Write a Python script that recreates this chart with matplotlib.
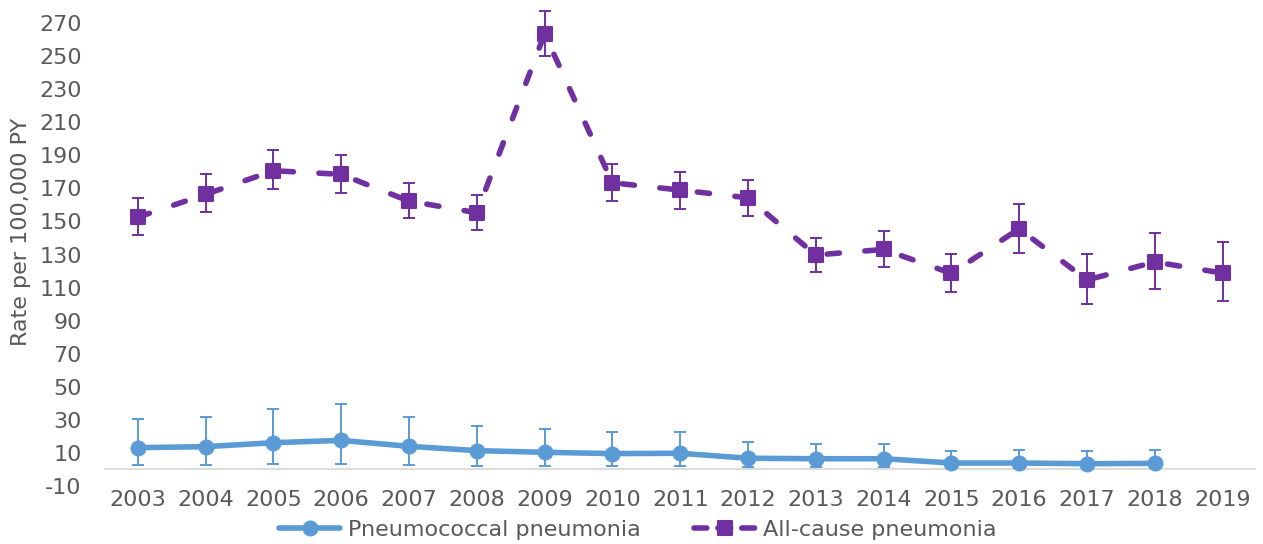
import matplotlib.pyplot as plt
from matplotlib.lines import Line2D
from matplotlib.markers import MarkerStyle
import numpy as np

plt.rcParams['font.family'] = ['DejaVu Sans']
plt.rcParams['axes.unicode_minus'] = False

# yearly rates per 100,000 person-years with 95% CI
years = [str(y) for y in range(2003, 2020)]

pneumo = [13.2, 13.8, 16.2, 17.6, 14.0, 11.4, 10.4, 9.6, 9.8, 6.8, 6.5, 6.5, 3.9, 3.9, 3.5, 3.7]
pneumo_lo = [2.9, 2.9, 3.1, 3.1, 2.9, 2.3, 2.1, 2.1, 2.1, 1.7, 1.7, 1.7, 1.0, 1.0, 1.0, 1.0]
pneumo_hi = [30.3, 31.6, 36.8, 39.4, 31.7, 26.1, 24.5, 22.9, 22.5, 16.4, 15.6, 15.6, 11.2, 11.8, 11.4, 12.0]

allcause = [152.6, 166.4, 180.7, 178.5, 162.3, 155.3, 263.5, 173.4, 169.0, 164.3,
            129.7, 133.1, 118.6, 145.6, 114.6, 125.5, 118.8]
allcause_lo = [141.6, 155.7, 169.6, 167.4, 151.9, 145.0, 250.0, 162.5, 157.7, 153.3,
               119.4, 122.2, 107.3, 130.9, 100.3, 109.3, 101.7]
allcause_hi = [164.3, 178.5, 193.0, 190.1, 173.4, 166.0, 277.2, 184.5, 179.9, 175.2,
               140.0, 144.4, 130.5, 160.7, 130.1, 143.2, 137.5]

blue = '#5b9bd5'
purple = '#7030a0'
grey = '#595959'
fs = 16

fig = plt.figure(figsize=(12.63, 5.44), dpi=100)
ax = fig.add_axes([0.0823, 0.1066, 0.9125, 0.851])

x = np.arange(len(years))
xp = x[:len(pneumo)]

p = np.array(pneumo)
ax.errorbar(xp, p, yerr=[p - np.array(pneumo_lo), np.array(pneumo_hi) - p],
            fmt='none', ecolor=blue, elinewidth=1.4, capsize=4, capthick=1.4,
            clip_on=False, zorder=2)
l1, = ax.plot(xp, p, color=blue, lw=4, marker='o', ms=10.5, zorder=3,
              solid_capstyle='round', label='Pneumococcal pneumonia')

a = np.array(allcause)
ax.errorbar(x, a, yerr=[a - np.array(allcause_lo), np.array(allcause_hi) - a],
            fmt='none', ecolor=purple, elinewidth=1.4, capsize=4, capthick=1.4,
            clip_on=False, zorder=2)
sq = MarkerStyle('s', joinstyle='round')
ax.plot(x, a, color=purple, lw=4, ls=(0, (2.2, 4.6)), dash_capstyle='round',
        marker=sq, ms=9.5, mew=1.5, zorder=3)

# category axis line at zero
ax.axhline(0, color='#d9d9d9', lw=1.3, zorder=1)

ax.set_xlim(-0.5, len(years) - 0.5)
ax.set_ylim(-10, 270)
ax.set_yticks(np.arange(-10, 271, 20))
ax.set_xticks(x)
ax.set_xticklabels(years)
ax.tick_params(length=0, labelsize=fs, colors=grey)
ax.tick_params(axis='x', pad=3)
ax.tick_params(axis='y', pad=16)
for s in ax.spines.values():
    s.set_visible(False)

ax.set_ylabel('Rate per 100,000 PY', fontsize=fs, color=grey)
ax.yaxis.set_label_coords(-0.0635, 0.549)

# shorter dash pattern so the legend key shows one dash on each side
l2 = Line2D([], [], color=purple, lw=4, ls=(0, (2.3, 2.0)), dash_capstyle='round',
            marker=sq, ms=9.5, mew=1.5, label='All-cause pneumonia')

fig.legend(handles=[l1, l2], loc='center', ncol=2, frameon=False,
           bbox_to_anchor=(638 / 1263, 1 - 530 / 544), fontsize=fs,
           labelcolor=grey, handlelength=2.75, handletextpad=0.35,
           columnspacing=2.4, borderpad=0)

fig.savefig('out.png', dpi=100)
